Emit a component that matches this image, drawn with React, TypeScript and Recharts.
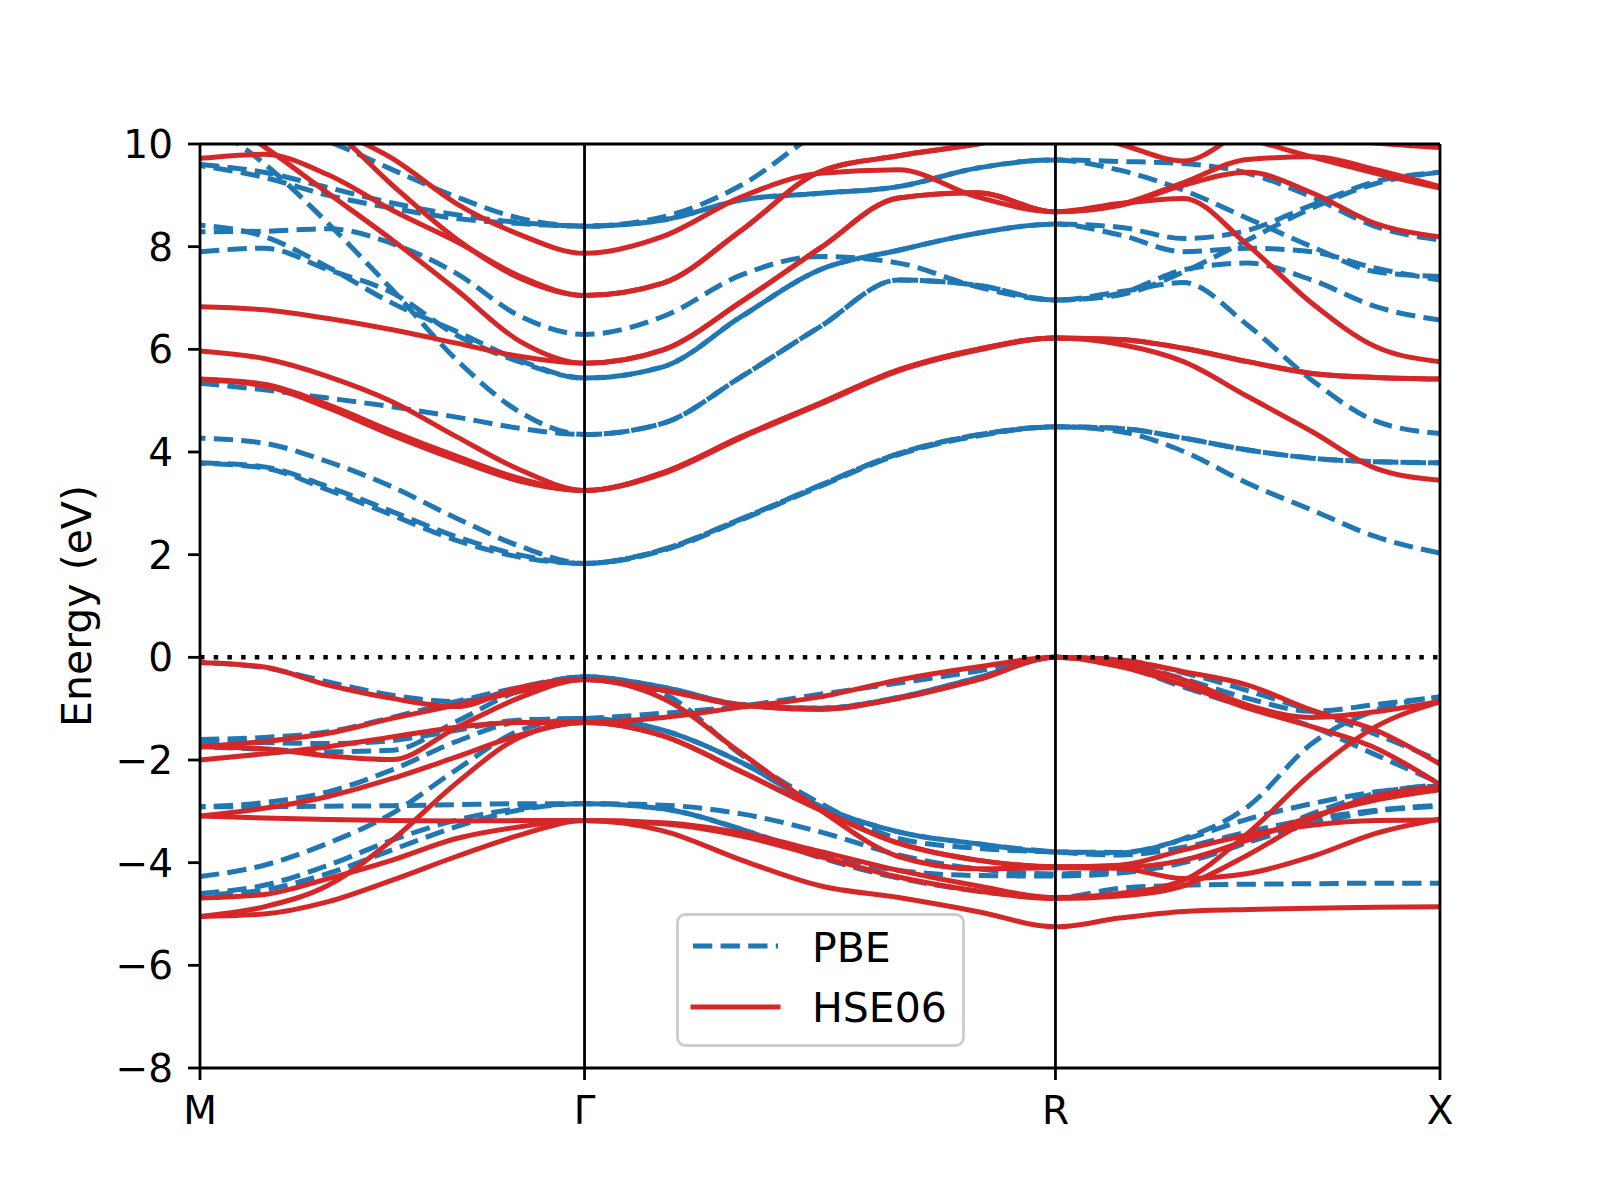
import React from "react";
import { LineChart, Line, XAxis, YAxis, ReferenceLine } from "recharts";

const FONT = "DejaVu Sans, sans-serif";
const BLUE = "#1f77b4";
const RED = "#d62728";

// k-path positions (M-Γ, Γ-R, R-X), 7 points per segment
const K_PATH = [
  0, 0.1667, 0.3333, 0.5, 0.6667, 0.8333, 1,
  1.2041, 1.4082, 1.6124, 1.8165, 2.0206, 2.2247,
  2.3914, 2.558, 2.7247, 2.8914, 3.058, 3.2247,
];
const K_TICKS = [0, 1, 2.2247, 3.2247];
const K_LABELS = ["M", "Γ", "R", "X"];
const E_TICKS = [-8, -6, -4, -2, 0, 2, 4, 6, 8, 10];

// PBE conduction bands
const pbeC1 = [9.6, 9.45, 9.15, 8.85, 8.62, 8.47, 8.4, 8.52, 8.91, 9.04, 9.17, 9.53, 9.69, 9.66, 9.62, 9.43, 8.97, 8.39, 8.13];
const pbeC2 = [9.58, 9.35, 9.0, 8.75, 8.55, 8.45, 8.4, 8.52, 8.91, 9.04, 9.17, 9.53, 9.69, 9.49, 9.1, 8.55, 8.0, 7.51, 7.42];
const pbeC3 = [10.8, 10.4, 10.05, 9.5, 8.97, 8.55, 8.4, 8.58, 9.2, 10.25, 11.0, 11.5, 11.7, 11.7, 11.6, 11.5, 11.4, 11.3, 11.3];
const pbeC4 = [8.42, 8.2, 7.6, 6.9, 6.35, 5.78, 5.44, 5.66, 6.64, 7.55, 7.93, 8.26, 8.44, 8.38, 8.16, 8.32, 8.81, 9.27, 9.45];
const pbeC5 = [7.9, 7.97, 7.55, 7.1, 6.28, 5.75, 5.44, 5.66, 6.64, 7.55, 7.93, 8.26, 8.44, 8.23, 7.9, 7.97, 7.9, 7.58, 7.35];
const pbeC6 = [8.29, 8.3, 8.35, 8.06, 7.48, 6.64, 6.29, 6.64, 7.45, 7.81, 7.68, 7.22, 6.96, 7.09, 7.55, 7.68, 7.35, 6.83, 6.57];
const pbeC7 = [10.5, 9.62, 8.45, 7.16, 5.8, 4.77, 4.34, 4.56, 5.47, 6.44, 7.35, 7.25, 6.96, 7.06, 7.51, 8.13, 8.75, 9.23, 9.45];
const pbeC8 = [3.78, 3.69, 3.26, 2.77, 2.28, 1.95, 1.83, 2.08, 2.68, 3.33, 3.95, 4.31, 4.49, 4.4, 4.01, 3.39, 2.87, 2.35, 2.03];
const pbeC9 = [5.34, 5.21, 5.05, 4.88, 4.68, 4.46, 4.34, 4.56, 5.47, 6.44, 7.35, 7.25, 6.96, 7.12, 7.3, 6.47, 5.4, 4.6, 4.36];
const pbeC10 = [4.27, 4.17, 3.81, 3.32, 2.71, 2.16, 1.83, 2.1, 2.7, 3.35, 3.97, 4.33, 4.49, 4.46, 4.27, 4.04, 3.88, 3.81, 3.79];
const pbeC11 = [3.79, 3.71, 3.32, 2.84, 2.35, 1.99, 1.83, 2.1, 2.7, 3.35, 3.97, 4.33, 4.49, 4.46, 4.27, 4.04, 3.88, 3.81, 3.79];

// PBE valence bands
const pbeV1 = [-0.1, -0.2, -0.48, -0.74, -0.86, -0.6, -0.38, -0.58, -0.92, -0.99, -0.78, -0.4, 0.0, -0.1, -0.42, -0.8, -1.05, -0.92, -0.77];
const pbeV2 = [-1.6, -1.56, -1.45, -1.17, -0.86, -0.58, -0.38, -0.58, -0.92, -0.99, -0.78, -0.4, 0.0, -0.05, -0.3, -0.65, -1.05, -1.5, -2.02];
const pbeV3 = [-1.74, -1.79, -1.84, -1.81, -1.25, -0.64, -0.38, -0.7, -1.9, -2.84, -3.53, -3.72, -3.79, -3.81, -3.53, -2.91, -1.68, -1.03, -0.77];
const pbeV4 = [-1.64, -1.66, -1.68, -1.62, -1.42, -1.22, -1.19, -1.09, -0.95, -0.72, -0.5, -0.27, 0.0, -0.16, -0.58, -0.98, -1.35, -1.9, -2.45];
const pbeV5 = [-2.91, -2.83, -2.62, -2.19, -1.64, -1.25, -1.19, -1.42, -2.05, -2.9, -3.4, -3.63, -3.79, -3.85, -3.7, -3.4, -3.15, -2.98, -2.88];
const pbeV6 = [-4.27, -4.05, -3.62, -3.04, -2.19, -1.42, -1.19, -1.42, -2.05, -2.9, -3.4, -3.63, -3.79, -3.8, -3.55, -3.15, -2.85, -2.62, -2.5];
const pbeV7 = [-2.91, -2.91, -2.9, -2.89, -2.87, -2.85, -2.85, -2.88, -3.05, -3.4, -3.85, -4.12, -4.22, -4.15, -3.95, -3.6, -3.25, -3.0, -2.9];
const pbeV8 = [-4.6, -4.44, -4.05, -3.56, -3.17, -2.94, -2.85, -2.95, -3.35, -3.85, -4.15, -4.25, -4.26, -4.2, -4.0, -3.6, -3.05, -2.65, -2.48];
const pbeV9 = [-4.63, -4.53, -4.21, -3.75, -3.3, -2.97, -2.85, -2.95, -3.35, -3.9, -4.3, -4.55, -4.68, -4.5, -4.44, -4.42, -4.41, -4.4, -4.4];

// HSE06 conduction bands
const hseC1 = [9.72, 9.8, 9.4, 8.71, 8.1, 7.42, 7.05, 7.29, 8.32, 9.46, 9.77, 10.0, 10.3, 10.0, 9.67, 10.3, 10.7, 11.0, 11.2];
const hseC2 = [11.6, 11.0, 10.35, 9.2, 8.15, 7.38, 7.05, 7.29, 8.32, 9.46, 9.77, 10.0, 10.3, 10.45, 10.4, 10.1, 9.75, 9.43, 9.14];
const hseC3 = [11.5, 10.95, 10.34, 9.72, 8.84, 8.23, 7.87, 8.2, 8.97, 9.43, 9.5, 8.97, 8.68, 8.84, 8.94, 8.03, 6.9, 6.05, 5.76];
const hseC4 = [10.76, 9.95, 9.04, 8.13, 7.16, 6.15, 5.73, 5.99, 6.93, 7.97, 8.95, 9.05, 8.68, 8.82, 9.25, 9.7, 9.75, 9.5, 9.17];
const hseC5 = [6.83, 6.77, 6.6, 6.38, 6.12, 5.86, 5.73, 5.99, 6.93, 7.97, 8.95, 9.05, 8.68, 8.8, 9.2, 9.45, 9.05, 8.45, 8.19];
const hseC6 = [5.97, 5.82, 5.47, 4.98, 4.3, 3.65, 3.25, 3.6, 4.3, 4.95, 5.6, 6.0, 6.22, 6.19, 6.02, 5.76, 5.53, 5.45, 5.42];
const hseC7 = [5.42, 5.32, 4.92, 4.4, 3.92, 3.48, 3.25, 3.6, 4.3, 4.95, 5.6, 6.0, 6.22, 6.19, 6.02, 5.76, 5.53, 5.45, 5.42];
const hseC8 = [5.41, 5.29, 4.86, 4.33, 3.85, 3.43, 3.25, 3.58, 4.28, 4.93, 5.58, 5.98, 6.22, 6.1, 5.76, 5.08, 4.4, 3.68, 3.45];
const hseC9 = [11.8, 11.8, 11.7, 11.5, 11.3, 11.0, 10.9, 10.9, 10.9, 10.8, 10.7, 10.6, 10.6, 10.5, 10.4, 10.3, 10.15, 10.02, 9.93];

// HSE06 valence bands
const hseV1 = [-0.1, -0.19, -0.54, -0.8, -0.96, -0.58, -0.43, -0.64, -0.93, -1.01, -0.8, -0.44, 0.0, -0.12, -0.44, -0.93, -1.17, -1.06, -0.86];
const hseV2 = [-1.74, -1.64, -1.48, -1.19, -0.93, -0.66, -0.43, -0.64, -0.93, -1.01, -0.8, -0.44, 0.0, -0.05, -0.28, -0.54, -1.03, -1.42, -2.08];
const hseV3 = [-1.74, -1.78, -1.92, -1.99, -1.37, -0.78, -0.43, -0.8, -1.87, -2.97, -3.88, -4.12, -4.1, -4.11, -4.31, -4.21, -3.88, -3.43, -3.15];
const hseV4 = [-2.0, -1.88, -1.74, -1.55, -1.36, -1.27, -1.27, -1.17, -0.97, -0.77, -0.44, -0.19, 0.0, -0.18, -0.54, -0.99, -1.35, -1.77, -2.48];
const hseV5 = [-3.09, -2.94, -2.71, -2.36, -1.94, -1.51, -1.27, -1.53, -2.23, -2.97, -3.62, -3.95, -4.08, -4.05, -3.75, -3.46, -3.27, -3.18, -3.17];
const hseV6 = [-5.05, -4.86, -4.44, -3.56, -2.45, -1.55, -1.27, -1.53, -2.23, -2.97, -3.62, -3.95, -4.08, -4.09, -3.95, -3.56, -3.1, -2.78, -2.58];
const hseV7 = [-3.09, -3.13, -3.16, -3.18, -3.19, -3.18, -3.18, -3.22, -3.42, -3.78, -4.15, -4.45, -4.68, -4.6, -4.34, -3.43, -2.26, -1.35, -0.87];
const hseV8 = [-4.69, -4.62, -4.31, -3.95, -3.53, -3.3, -3.18, -3.24, -3.48, -3.88, -4.28, -4.55, -4.7, -4.65, -4.45, -3.85, -3.15, -2.7, -2.52];
const hseV9 = [-5.05, -5.0, -4.76, -4.34, -3.88, -3.46, -3.18, -3.38, -3.95, -4.45, -4.68, -4.95, -5.25, -5.08, -4.95, -4.91, -4.89, -4.87, -4.86];

// degenerate pairs sit next to each other so their dash phases interleave
const PBE_BANDS = [
  pbeC1, pbeC2, pbeC3, pbeC4, pbeC5, pbeC6, pbeC7, pbeC8, pbeC9, pbeC10, pbeC11,
  pbeV1, pbeV2, pbeV3, pbeV4, pbeV5, pbeV6, pbeV7, pbeV8, pbeV9,
];
const HSE_BANDS = [
  hseC1, hseC2, hseC3, hseC4, hseC5, hseC6, hseC7, hseC8, hseC9,
  hseV1, hseV2, hseV3, hseV4, hseV5, hseV6, hseV7, hseV8, hseV9,
];

const rows = K_PATH.map((k, i) => {
  const row: Record<string, number> = { k };
  PBE_BANDS.forEach((band, j) => (row[`pbe${j}`] = band[i]));
  HSE_BANDS.forEach((band, j) => (row[`hse${j}`] = band[i]));
  return row;
});

const tickStyle = { fill: "#000", fontSize: 39, fontFamily: FONT };
const spine = { stroke: "#000", strokeWidth: 2.8 };

function LegendBox() {
  return (
    <svg width={1600} height={1200} style={{ position: "absolute", left: 0, top: 0, pointerEvents: "none" }}>
      <rect x={677.5} y={914.5} width={286} height={131} rx={8} fill="rgba(255,255,255,0.8)" stroke="#cccccc" strokeWidth={2.8} />
      <line x1={693} x2={778} y1={946} y2={946} stroke={BLUE} strokeWidth={5} strokeDasharray="19.3 8.3" />
      <line x1={693} x2={778} y1={1007} y2={1007} stroke={RED} strokeWidth={5} strokeLinecap="square" />
      <text x={812} y={961.5} fontSize={41} fontFamily={FONT} fill="#000">PBE</text>
      <text x={812} y={1021.5} fontSize={41} fontFamily={FONT} fill="#000">HSE06</text>
    </svg>
  );
}

export default function App() {
  return (
    <div style={{ position: "absolute", left: 0, top: 0, width: 1600, height: 1200, background: "#fff" }}>
      <LineChart width={1600} height={1200} data={rows} margin={{ top: 144, right: 160, bottom: 62, left: 80 }}>
        <XAxis
          dataKey="k"
          type="number"
          domain={[0, 3.2247]}
          ticks={K_TICKS}
          interval={0}
          tickFormatter={(v) => K_LABELS[K_TICKS.indexOf(v)] ?? ""}
          height={70}
          tickSize={12}
          tickMargin={16}
          axisLine={spine}
          tickLine={spine}
          tick={tickStyle}
          allowDataOverflow
        />
        <YAxis
          type="number"
          domain={[-8, 10]}
          ticks={E_TICKS}
          interval={0}
          allowDataOverflow
          width={120}
          tickSize={12}
          tickMargin={15}
          axisLine={spine}
          tickLine={spine}
          tick={tickStyle}
          tickFormatter={(v) => String(v).replace("-", "\u2212")}
          label={{
            value: "Energy (eV)",
            angle: -90,
            position: "insideLeft",
            offset: -4,
            style: { textAnchor: "middle", fontSize: 41, fontFamily: FONT, fill: "#000" },
          }}
        />
        {PBE_BANDS.map((_, j) => (
          <Line
            key={`pbe${j}`}
            dataKey={`pbe${j}`}
            type="monotone"
            stroke={BLUE}
            strokeWidth={5}
            strokeDasharray="19.3 8.3"
            strokeDashoffset={j % 2 ? 13.8 : 0}
            dot={false}
            activeDot={false}
            isAnimationActive={false}
          />
        ))}
        {HSE_BANDS.map((_, j) => (
          <Line
            key={`hse${j}`}
            dataKey={`hse${j}`}
            type="monotone"
            stroke={RED}
            strokeWidth={5}
            dot={false}
            activeDot={false}
            isAnimationActive={false}
          />
        ))}
        <ReferenceLine y={0} stroke="#000" strokeWidth={4.5} strokeDasharray="4.5 9.2" />
        <ReferenceLine x={1} stroke="#000" strokeWidth={2.8} />
        <ReferenceLine x={2.2247} stroke="#000" strokeWidth={2.8} />
        <ReferenceLine y={10} stroke="#000" strokeWidth={2.8} />
        <ReferenceLine x={3.2247} stroke="#000" strokeWidth={2.8} />
      </LineChart>
      <LegendBox />
    </div>
  );
}
